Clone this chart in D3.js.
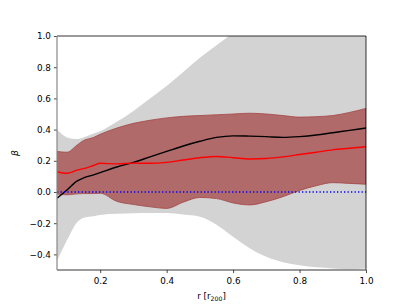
<!DOCTYPE html>
<html>
<head>
  <script src="https://d3js.org/d3.v7.min.js"></script>
  <style>
    body { margin: 0; background: #fff; }
    text { font-family: "DejaVu Sans", sans-serif; }
  </style>
</head>
<body>
<script type="text/javascript">

  // radial grid (r / r200)
  var rVals = [0.07, 0.10, 0.13, 0.15, 0.18, 0.20, 0.25, 0.30, 0.35, 0.40, 0.45,
               0.50, 0.55, 0.60, 0.65, 0.70, 0.75, 0.80, 0.85, 0.90, 0.95, 1.00];

  // black line
  var betaBlack = [-0.04, 0.013, 0.07, 0.09, 0.11, 0.124, 0.16, 0.19, 0.225, 0.26, 0.295,
                   0.325, 0.35, 0.36, 0.358, 0.355, 0.35, 0.355, 0.365, 0.38, 0.395, 0.41];
  // red line
  var betaRed = [0.13, 0.12, 0.14, 0.15, 0.17, 0.184, 0.18, 0.185, 0.184, 0.19, 0.205,
                 0.22, 0.228, 0.22, 0.212, 0.215, 0.225, 0.24, 0.255, 0.27, 0.28, 0.29];
  // red band
  var redHi = [0.26, 0.255, 0.30, 0.33, 0.35, 0.37, 0.41, 0.44, 0.46, 0.475, 0.485,
               0.49, 0.495, 0.50, 0.505, 0.50, 0.49, 0.48, 0.483, 0.49, 0.51, 0.536];
  var redLo = [-0.013, -0.018, -0.012, -0.01, -0.01, -0.008, -0.06, -0.08, -0.095, -0.105, -0.065,
               -0.035, -0.042, -0.07, -0.083, -0.062, -0.03, 0.01, 0.04, 0.06, 0.055, 0.05];
  // grey band
  var greyHi = [0.40, 0.35, 0.34, 0.35, 0.375, 0.39, 0.45, 0.52, 0.60, 0.68, 0.77,
                0.86, 0.94, 1.02, 1.10, 1.18, 1.25, 1.32, 1.38, 1.44, 1.50, 1.55];
  var greyLo = [-0.44, -0.31, -0.195, -0.165, -0.155, -0.147, -0.14, -0.137, -0.135, -0.135, -0.145,
                -0.158, -0.21, -0.287, -0.36, -0.415, -0.45, -0.47, -0.483, -0.49, -0.495, -0.49];

  var xTicks = [0.2, 0.4, 0.6, 0.8, 1.0];
  var yTicks = [-0.4, -0.2, 0.0, 0.2, 0.4, 0.6, 0.8, 1.0];

  var w = 407, h = 305;
  var padL = 57, padR = 366, padT = 36, padB = 270;

  var svg = d3.select("body").append("svg")
          .attr("width", w)
          .attr("height", h);

  var x = d3.scaleLinear().domain([0.07, 1.0]).range([padL, padR]);
  var y = d3.scaleLinear().domain([-0.5, 1.0]).range([padB, padT]);

  svg.append("clipPath").attr("id", "clip")
     .append("rect")
     .attr("x", padL).attr("y", padT)
     .attr("width", padR - padL).attr("height", padB - padT);

  var plot = svg.append("g").attr("clip-path", "url(#clip)");

  function band(lo, hi){
    return d3.area()
      .x(function(d, i){ return x(rVals[i]); })
      .y0(function(d, i){ return y(lo[i]); })
      .y1(function(d, i){ return y(hi[i]); })
      .curve(d3.curveMonotoneX)(rVals);
  }
  function line(vals){
    return d3.line()
      .x(function(d, i){ return x(rVals[i]); })
      .y(function(d, i){ return y(vals[i]); })
      .curve(d3.curveMonotoneX)(rVals);
  }

  plot.append("path").attr("d", band(greyLo, greyHi))
      .attr("fill", "#d3d3d3");
  plot.append("path").attr("d", band(redLo, redHi))
      .attr("fill", "#b06a6a")
      .attr("stroke", "#a54545")
      .attr("stroke-width", 0.8);

  plot.append("path").attr("d", line(betaBlack))
      .attr("fill", "none").attr("stroke", "#000").attr("stroke-width", 1.4);
  plot.append("path").attr("d", line(betaRed))
      .attr("fill", "none").attr("stroke", "#ff0000").attr("stroke-width", 1.4);

  // zero line
  plot.append("line")
      .attr("x1", x(0.07)).attr("x2", x(1.0))
      .attr("y1", y(0)).attr("y2", y(0))
      .attr("stroke", "#0000ff")
      .attr("stroke-width", 1.4)
      .attr("stroke-dasharray", "1.3,2.2");

  // axes
  var fmt = d3.format(".1f");
  var xAxis = svg.append("g")
      .attr("transform", "translate(0," + padB + ")")
      .call(d3.axisBottom(x).tickValues(xTicks).tickFormat(fmt).tickSize(3.1).tickPadding(5));
  var yAxis = svg.append("g")
      .attr("transform", "translate(" + padL + ",0)")
      .call(d3.axisLeft(y).tickValues(yTicks).tickFormat(fmt).tickSize(3.1).tickPadding(3));

  [xAxis, yAxis].forEach(function(a){
    a.select(".domain").remove();
    a.selectAll("text").attr("font-size", "8.8px").attr("fill", "#000")
      .attr("font-family", "DejaVu Sans");
    a.selectAll("line").attr("stroke", "#000").attr("stroke-width", 0.7);
  });

  // frame (left spine looks grey in the reference)
  var frame = svg.append("g").attr("stroke-width", 0.8);
  frame.append("line").attr("x1", padL).attr("x2", padR).attr("y1", padT).attr("y2", padT).attr("stroke", "#000");
  frame.append("line").attr("x1", padL).attr("x2", padR).attr("y1", padB).attr("y2", padB).attr("stroke", "#000");
  frame.append("line").attr("x1", padR).attr("x2", padR).attr("y1", padT).attr("y2", padB).attr("stroke", "#000");
  frame.append("line").attr("x1", padL).attr("x2", padL).attr("y1", padT).attr("y2", padB)
       .attr("stroke", "#888").attr("stroke-width", 1.2);

  // labels
  var xl = svg.append("text")
     .attr("x", (padL + padR) / 2).attr("y", 299)
     .attr("text-anchor", "middle")
     .attr("font-size", "8.8px");
  xl.append("tspan").text("r [r");
  xl.append("tspan").attr("font-size", "6.2px").attr("dy", 2).text("200");
  xl.append("tspan").attr("dy", -2).text("]");

  svg.append("text")
     .attr("transform", "translate(18," + (padT + padB) / 2 + ") rotate(-90)")
     .attr("text-anchor", "middle")
     .attr("font-size", "9px")
     .attr("font-style", "italic")
     .text("β");

</script>
</body>
</html>
